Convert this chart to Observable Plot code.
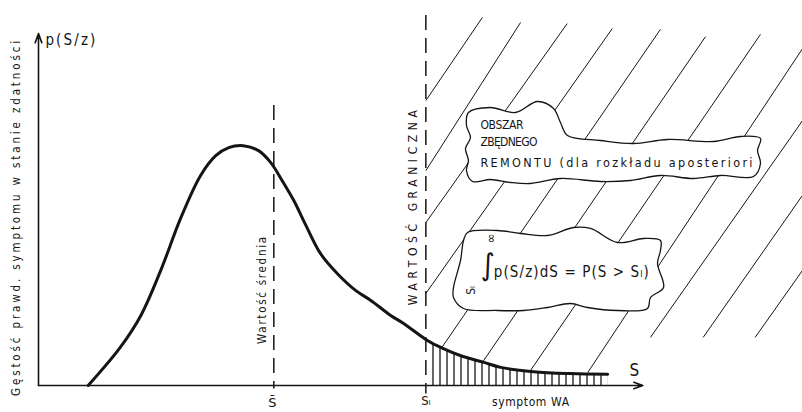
<!DOCTYPE html>
<html><head><meta charset="utf-8">
<script src="https://cdn.jsdelivr.net/npm/d3@7"></script>
<script src="https://cdn.jsdelivr.net/npm/@observablehq/plot@0.6"></script>
<style>html,body{margin:0;padding:0;background:#fff;} #chart svg{display:block}</style>
</head><body><div id="chart"></div>
<script>
// ---- data (arbitrary units of the sketch: S along x, p(S/z) along y) ----
const S_MEAN = 30.8;   // wartość średnia
const S_LIM = 50.7;    // wartość graniczna
const curveS = [6.5,10.7,13.4,16.0,18.6,21.2,23.2,24.9,26.8,28.8,30.4,31.9,33.4,35.0,36.9,39.1,41.5,43.5,46.1,47.8,50.9,53.0,55.2,58.3,60.5,64.8,69.6,74.5];
const curveP = [0,9.9,18.2,29.9,43.4,54.5,59.7,61.8,62.3,61.0,57.9,53.2,48.1,41.6,34.3,29.1,24.7,22.1,18.2,16.1,11.7,9.6,7.8,6.0,4.7,3.6,3.1,2.9];

const meanLineP = [72.7, -0.9];
const limLineP = [96.1, -2.2];
const axisEndS = 79.1, axisEndP = 91.4;

// diagonal hatching of the "unnecessary repair" region
const diagTopS = [58.1,63.1,69.2,75.1,81.4,87.3,94.5,100,100,100,100];
const diagTopP = [95.6,94.3,94.0,92.7,92.5,90.6,91.2,87.5,68.8,49.4,29.9];
const diagEndS = [50.7,50.7,50.7,50.7,52.7,58.1,64.4,71.9,80.1,87.0,93.8];
const diagEndP = [74.0,55.8,42.3,23.9,9.6,6.0,3.9,3.4,12.5,12.5,12.5];

// cloud outlines
const cloud1S = [56.28,59.16,62.43,65.31,67.41,68.32,69.24,73.56,77.88,82.33,88.35,91.88,94.5,94.11,94.5,93.59,89.27,85.73,81.41,77.49,73.56,68.32,64.4,61.78,59.16,56.81,56.02,56.28,55.89,56.54,56.02];
const cloud1P = [70.91,72.21,70.91,73.77,71.95,68.31,64.94,63.64,62.86,63.9,63.38,64.68,64.16,61.04,57.66,54.29,54.55,53.77,54.55,53.25,52.99,53.77,52.47,52.73,53.51,52.99,55.84,58.44,61.56,64.42,67.53];
const cloud2S = [56.15,60.08,63.09,66.62,70.03,72.25,75.79,79.19,81.41,81.41,81.02,81.81,80.1,79.71,75.79,71.86,69.63,66.62,63.48,60.08,55.63,54.32,54.32,55.24,55.63];
const cloud2P = [39.74,40.26,39.48,38.96,41.04,40.78,37.14,38.18,37.66,35.06,31.69,25.45,22.86,20.0,19.48,20.26,21.3,20.26,19.48,19.48,20.0,22.86,25.45,32.47,37.66];

// texts
const labelText = ["Gęstość prawd. symptomu w stanie zdatności","p(S/z)","Wartość średnia","WARTOŚĆ GRANICZNA","S̄","Sₗ","symptom WA","S","OBSZAR","ZBĘDNEGO","REMONTU (dla rozkładu aposteriori","∫","∞","Sₗ","p(S/z)dS = P(S > Sₗ)"];
const labelS = [-2.9,0.9,29.3,49.1,30.6,50.7,64.4,78.0,57.85,57.85,57.85,58.8,59.2,56.6,59.6];
const labelP = [43.4,89.6,24.7,46.2,-4.4,-3.9,-4.2,3.9,67.5,63.1,57.9,31.2,38.2,24.7,29.4];

// ---- styles for each label (kept apart from data) ----
const labelStyle = [
  {size:11.5, rotate:-90, anchor:"middle", len:355},
  {size:15, rotate:0, anchor:"start", len:50},
  {size:11.5, rotate:-90, anchor:"middle", len:107},
  {size:12, rotate:-90, anchor:"middle", len:195},
  {size:13, rotate:0, anchor:"middle", family:"'DejaVu Sans',sans-serif"},
  {size:13, rotate:0, anchor:"middle"},
  {size:12, rotate:0, anchor:"middle", len:77},
  {size:17, rotate:0, anchor:"middle"},
  {size:12, rotate:0, anchor:"start", len:43},
  {size:12, rotate:0, anchor:"start", len:57},
  {size:12.5, rotate:0, anchor:"start", len:272},
  {size:30, rotate:0, anchor:"middle"},
  {size:13, rotate:-90, anchor:"middle"},
  {size:12, rotate:-90, anchor:"middle"},
  {size:15, rotate:0, anchor:"start", len:155}
];

const pts = (xs, ys) => xs.map((x, i) => ({x, y: ys[i]}));
const curve = pts(curveS, curveP);
const cloud1 = pts(cloud1S, cloud1P);
const cloud2 = pts(cloud2S, cloud2P);
const diag = diagTopS.map((s, i) => ({x1: s, y1: diagTopP[i], x2: diagEndS[i], y2: diagEndP[i]}));
const axes = [
  {x1: 0, y1: 0, x2: 0, y2: axisEndP},
  {x1: 0, y1: 0, x2: axisEndS, y2: 0}
];
const refLines = [
  {x: S_MEAN, y1: meanLineP[0], y2: meanLineP[1]},
  {x: S_LIM, y1: limLineP[0], y2: limLineP[1]}
];
const labels = labelText.map((t, i) => ({text: t, x: labelS[i], y: labelP[i]}));

function pAt(s) {
  for (let i = 1; i < curveS.length; i++) {
    if (s <= curveS[i]) {
      const t = (s - curveS[i-1]) / (curveS[i] - curveS[i-1]);
      return curveP[i-1] + t * (curveP[i] - curveP[i-1]);
    }
  }
  return curveP[curveP.length - 1];
}
const hatchStart = S_LIM + 0.6;
const hatchArea = [{x: hatchStart, y: pAt(hatchStart), b: 0}, ...curve.filter(d => d.x > hatchStart).map(d => ({...d, b: 0}))];

const ink = "#151515";
const font = "'DejaVu Sans Condensed','DejaVu Sans',sans-serif";

const textMarks = labels.map((d, i) => Plot.text([d], {
  x: "x", y: "y", text: "text",
  fontSize: labelStyle[i].size, rotate: labelStyle[i].rotate,
  textAnchor: labelStyle[i].anchor, fill: ink,
  ...(labelStyle[i].family ? {fontFamily: labelStyle[i].family} : {})
}));

const svg = Plot.plot({
  width: 802, height: 412,
  marginLeft: 38, marginRight: 0, marginTop: 0, marginBottom: 27,
  x: {domain: [0, 100], axis: null},
  y: {domain: [0, 100], axis: null},
  style: {fontFamily: font, background: "white", overflow: "visible"},
  marks: [
    Plot.link(diag, {x1: "x1", y1: "y1", x2: "x2", y2: "y2", stroke: ink, strokeWidth: 1}),
    Plot.line(cloud1, {x: "x", y: "y", curve: "catmull-rom-closed", fill: "white", stroke: ink, strokeWidth: 1.3}),
    Plot.line(cloud2, {x: "x", y: "y", curve: "catmull-rom-closed", fill: "white", stroke: ink, strokeWidth: 1.3}),
    Plot.area(hatchArea, {x1: "x", y1: "b", y2: "y", curve: "catmull-rom", fill: "url(#vhatch)"}),
    Plot.ruleX(refLines, {x: "x", y1: "y1", y2: "y2", stroke: ink, strokeWidth: 1.5, strokeDasharray: "15,8"}),
    Plot.arrow(axes, {x1: "x1", y1: "y1", x2: "x2", y2: "y2", stroke: ink, strokeWidth: 1.6, headLength: 9, headAngle: 40}),
    Plot.line(curve, {x: "x", y: "y", curve: "catmull-rom", stroke: ink, strokeWidth: 3}),
    ...textMarks
  ]
});

// hatch pattern
const defs = d3.select(svg).insert("defs", ":first-child");
const pat = defs.append("pattern").attr("id", "vhatch").attr("patternUnits", "userSpaceOnUse")
  .attr("width", 7).attr("height", 20).attr("x", 430);
pat.append("line").attr("x1", 3).attr("x2", 3).attr("y1", 0).attr("y2", 20)
  .attr("stroke", ink).attr("stroke-width", 1.3);

// spread texts to their drawn lengths (text marks appear in the same order as labels)
const textEls = svg.querySelectorAll('g[aria-label="text"] text');
labelStyle.forEach((st, i) => {
  const el = textEls[i];
  if (!el || !st.len) return;
  el.setAttribute("textLength", st.len);
  el.setAttribute("lengthAdjust", "spacing");
});

document.getElementById("chart").appendChild(svg);
</script></body></html>
